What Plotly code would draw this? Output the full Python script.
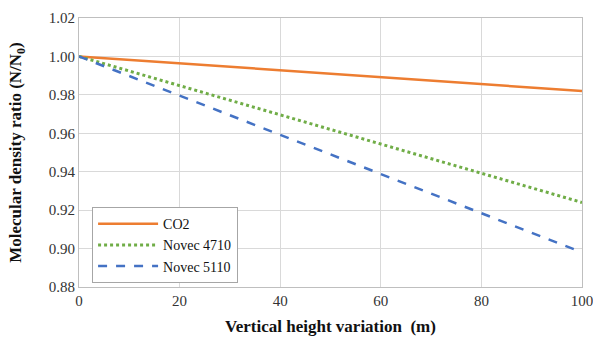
import plotly.graph_objects as go

heights = [0, 20, 40, 60, 80, 100]
co2 = [1.0, 0.9964, 0.9928, 0.9892, 0.9856, 0.982]
novec4710 = [1.0, 0.9848, 0.9696, 0.9544, 0.9392, 0.924]
novec5110 = [1.0, 0.9796, 0.9592, 0.9388, 0.9184, 0.898]
y_ticks = [0.88, 0.90, 0.92, 0.94, 0.96, 0.98, 1.00, 1.02]
x_ticks = [0, 20, 40, 60, 80, 100]

fig = go.Figure()
fig.add_trace(go.Scatter(x=heights, y=co2, mode="lines", name="CO2",
                         line=dict(color="#ED7D31", width=2.5)))
fig.add_trace(go.Scatter(x=heights, y=novec4710, mode="lines", name="Novec 4710",
                         line=dict(color="#70AD47", width=3, dash="dot")))
fig.add_trace(go.Scatter(x=heights, y=novec5110, mode="lines", name="Novec 5110",
                         line=dict(color="#4472C4", width=2.5, dash="dash")))

font_family = "Times New Roman, Liberation Serif, DejaVu Serif, serif"
fig.update_layout(
    width=593, height=340,
    margin=dict(l=79, r=11, t=18, b=53),
    paper_bgcolor="white", plot_bgcolor="white",
    font=dict(family=font_family, size=15, color="#222"),
    showlegend=True,
    legend=dict(x=0.026, y=0.297, xanchor="left", yanchor="top",
                bordercolor="#a6a6a6", borderwidth=1, bgcolor="white",
                font=dict(family=font_family, size=14, color="#111"),
                tracegroupgap=0, itemwidth=60),
    xaxis=dict(range=[0, 100], tickvals=x_ticks, showgrid=True, gridcolor="#d9d9d9",
               gridwidth=1, zeroline=False, showline=True, linecolor="#bfbfbf",
               mirror=True, ticks="", automargin=False, ticklabeloverflow="allow",
               tickfont=dict(family=font_family, size=15, color="#333"),
               title=dict(text="<b>Vertical height variation  (m)</b>",
                          font=dict(family=font_family, size=17, color="#111"),
                          standoff=12)),
    yaxis=dict(range=[0.88, 1.02], tickvals=y_ticks, tickformat=".2f", showgrid=True,
               gridcolor="#d9d9d9", gridwidth=1, zeroline=False, showline=True,
               linecolor="#bfbfbf", mirror=True, ticks="", automargin=False,
               tickfont=dict(family=font_family, size=15, color="#333"),
               title=dict(text="<b>Molecular density ratio (N/N<sub>0</sub>)</b>",
                          font=dict(family=font_family, size=17, color="#111"),
                          standoff=22)),
)

fig.write_html("out.html", config={"displayModeBar": False},
               post_script="document.body.style.margin='0';document.body.style.overflow='hidden';")
